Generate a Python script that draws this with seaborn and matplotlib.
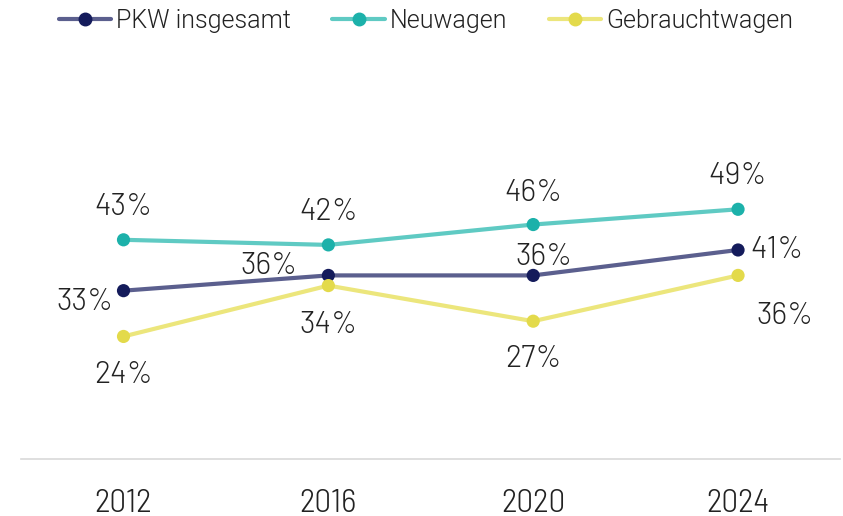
import matplotlib
matplotlib.use("Agg")
import matplotlib.pyplot as plt
import seaborn as sns
import pandas as pd
from matplotlib.lines import Line2D

years = ["2012", "2016", "2020", "2024"]
series_names = ["PKW insgesamt", "Neuwagen", "Gebrauchtwagen"]
pkw_insgesamt = [33, 36, 36, 41]
neuwagen = [43, 42, 46, 49]
gebrauchtwagen = [24, 34, 27, 36]

line_colors = {"PKW insgesamt": "#5b5f8e", "Neuwagen": "#5fcac3", "Gebrauchtwagen": "#ece67c"}
marker_colors = {"PKW insgesamt": "#141b5b", "Neuwagen": "#1cb1aa", "Gebrauchtwagen": "#e3da4b"}

# label offsets in pixels (dx, dy) with dy positive = down
label_offsets = {
    "PKW insgesamt": [(-39, 11), (-59, -9), (11, -18), (39, 0)],
    "Neuwagen": [(0, -33), (0, -33), (0, -32), (0, -33)],
    "Gebrauchtwagen": [(0, 39), (0, 39), (0, 38), (47, 41)],
}

sns.set_theme(style="white")
plt.rcParams["font.family"] = ["Roboto", "DejaVu Sans"]
num_font = ["Barlow", "DejaVu Sans"]
year_font = ["Barlow Semi Condensed", "DejaVu Sans"]

df = pd.DataFrame({
    "Jahr": years * 3,
    "Wert": pkw_insgesamt + neuwagen + gebrauchtwagen,
    "Serie": [s for s in series_names for _ in years],
})

fig = plt.figure(figsize=(8.43, 5.16), dpi=100)
ax = fig.add_axes([0.025, 0.1114, 0.972, 0.69])

sns.lineplot(data=df, x="Jahr", y="Wert", hue="Serie", palette=line_colors,
             linewidth=3.0, ax=ax, legend=False, sort=False)
sns.scatterplot(data=df, x="Jahr", y="Wert", hue="Serie", palette=marker_colors,
                s=90, edgecolor="none", ax=ax, legend=False, zorder=5)

ax.set_xlim(-0.5, 3.5)
ax.set_ylim(0, 70)
ax.set_xlabel("")
ax.set_ylabel("")
ax.set_yticks([])
ax.tick_params(axis="x", length=0, pad=22, labelsize=24, labelcolor="#222222")
for lab in ax.get_xticklabels():
    lab.set_fontfamily(year_font)
    lab.set_fontweight(300)
for sp in ["top", "left", "right"]:
    ax.spines[sp].set_visible(False)
ax.spines["bottom"].set_color("#d9d9d9")
ax.spines["bottom"].set_linewidth(1.2)

for name, vals in zip(series_names, [pkw_insgesamt, neuwagen, gebrauchtwagen]):
    for i, v in enumerate(vals):
        dx, dy = label_offsets[name][i]
        ax.annotate(f"{v}%", (i, v), xytext=(dx * 0.72, -dy * 0.72), textcoords="offset points",
                    ha="center", va="center", fontsize=22, color="#222222",
                    family=num_font, fontweight=300)

handles = [Line2D([0], [0], color=line_colors[n], lw=3.0, marker="o", markersize=9,
                  markerfacecolor=marker_colors[n], markeredgecolor=marker_colors[n])
           for n in series_names]
leg = fig.legend(handles, series_names, loc="upper left", bbox_to_anchor=(0.043, 1.026), ncol=3,
                 frameon=False, handlelength=2.1, handletextpad=0.2, columnspacing=1.65,
                 labelcolor="#222222", prop={"family": ["Roboto", "DejaVu Sans"], "weight": 300, "size": 18})

fig.savefig("out.png", dpi=100)
